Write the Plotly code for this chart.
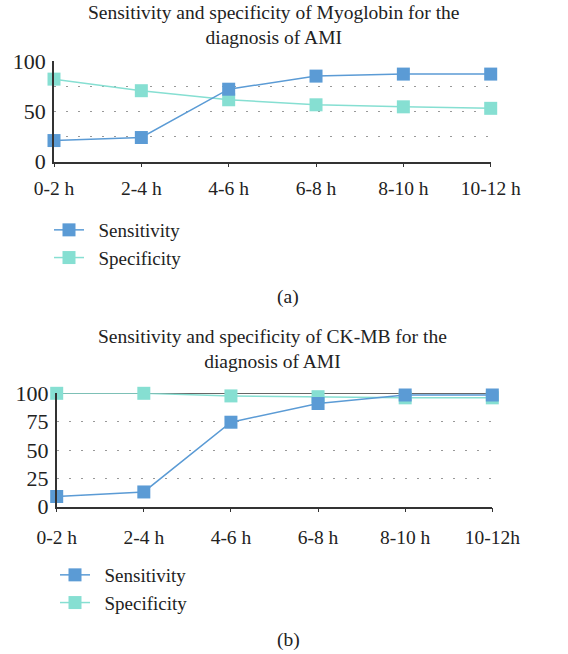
import plotly.graph_objects as go

categories_a = ["0-2 h", "2-4 h", "4-6 h", "6-8 h", "8-10 h", "10-12 h"]
categories_b = ["0-2 h", "2-4 h", "4-6 h", "6-8 h", "8-10 h", "10-12h"]

myo_sensitivity = [21, 24, 72, 85, 87, 87]
myo_specificity = [82, 70.5, 61.5, 56.5, 54.5, 53]

ckmb_sensitivity = [9, 13, 74.5, 91, 98.5, 98.5]
ckmb_specificity = [100, 100, 97.7, 97, 96, 96]

series_names = ["Sensitivity", "Specificity"]

title_a = "Sensitivity and specificity of Myoglobin for the<br>diagnosis of AMI"
title_b = "Sensitivity and specificity of CK-MB for the<br>diagnosis of AMI"

yticks_a = [0, 50, 100]
yticks_b = [0, 25, 50, 75, 100]
grid_vals = [25, 50, 75]

BLUE = "#5B9BD5"
TEAL = "#86DFD2"
FONT = "Liberation Serif"
TXT = "#222"
W, H = 568, 654
PAD = "\u00a0\u00a0"

fig = go.Figure()

def add_pair(xname, yname, cats, sens, spec, legend):
    fig.add_trace(go.Scatter(
        x=list(range(len(cats))), y=spec, name=PAD + series_names[1], mode="lines+markers",
        line=dict(color=TEAL, width=1.5), marker=dict(symbol="square", size=13, color=TEAL),
        xaxis=xname, yaxis=yname, legend=legend, legendrank=2, cliponaxis=False))
    fig.add_trace(go.Scatter(
        x=list(range(len(cats))), y=sens, name=PAD + series_names[0], mode="lines+markers",
        line=dict(color=BLUE, width=1.5), marker=dict(symbol="square", size=13, color=BLUE),
        xaxis=xname, yaxis=yname, legend=legend, legendrank=1, cliponaxis=False))

add_pair("x", "y", categories_a, myo_sensitivity, myo_specificity, "legend")
add_pair("x2", "y2", categories_b, ckmb_sensitivity, ckmb_specificity, "legend2")

def px_x(p):
    return p / W

def px_y(p):
    return 1 - p / H

def xaxis_cfg(cats, d0, d1, anchor, standoff):
    return dict(
        domain=[px_x(d0), px_x(d1)], anchor=anchor, range=[0, len(cats) - 1],
        tickmode="array", tickvals=list(range(len(cats))), ticktext=cats,
        showline=True, linecolor="#333", linewidth=1.5, ticks="outside", ticklen=4,
        tickcolor="#333", tickwidth=1, showgrid=False, zeroline=False,
        tickfont=dict(family=FONT, size=19.5, color=TXT), ticklabelstandoff=standoff,
        automargin=False, fixedrange=True)

def yaxis_cfg(ticks, t, b, anchor):
    return dict(
        domain=[px_y(b), px_y(t)], anchor=anchor, range=[0, 100],
        tickmode="array", tickvals=ticks, showline=True, linecolor="#333",
        linewidth=1.5, ticks="", showgrid=False, zeroline=False,
        tickfont=dict(family=FONT, size=22, color=TXT), ticklabelstandoff=2,
        minor=dict(tickmode="array", tickvals=grid_vals, showgrid=True,
                   gridcolor="#999999", griddash="2px,10px", gridwidth=1.2, ticks=""),
        automargin=False, fixedrange=True)

legend_font = dict(family=FONT, size=19, color=TXT)

fig.update_layout(
    width=W, height=H, margin=dict(l=0, r=0, t=0, b=0, autoexpand=False),
    paper_bgcolor="white", plot_bgcolor="white",
    font=dict(family=FONT, size=18, color=TXT),
    xaxis=xaxis_cfg(categories_a, 54, 490.7, "y", 4),
    yaxis=yaxis_cfg(yticks_a, 61, 161.7, "x"),
    xaxis2=xaxis_cfg(categories_b, 56.7, 492.3, "y2", 8),
    yaxis2=yaxis_cfg(yticks_b, 393.3, 506.7, "x2"),
    legend=dict(x=px_x(49), y=px_y(211), xanchor="left", yanchor="top",
                font=legend_font, bgcolor="rgba(0,0,0,0)"),
    legend2=dict(x=px_x(55), y=px_y(556), xanchor="left", yanchor="top",
                 font=legend_font, bgcolor="rgba(0,0,0,0)"),
    showlegend=True,
)

fig.add_shape(type="line", xref="x2 domain", yref="y2", x0=0, x1=1, y0=100, y1=100,
              line=dict(color="#333", width=1.5), layer="below")

title_font = dict(family=FONT, size=19.5, color=TXT)
fig.add_annotation(text=title_a, xref="paper", yref="paper", x=px_x(274), y=px_y(25),
                   showarrow=False, font=title_font, xanchor="center", yanchor="middle")
fig.add_annotation(text=title_b, xref="paper", yref="paper", x=px_x(272), y=px_y(349),
                   showarrow=False, font=title_font, xanchor="center", yanchor="middle")
fig.add_annotation(text="(a)", xref="paper", yref="paper", x=px_x(288), y=px_y(297),
                   showarrow=False, font=title_font, xanchor="center", yanchor="middle")
fig.add_annotation(text="(b)", xref="paper", yref="paper", x=px_x(288), y=px_y(640),
                   showarrow=False, font=title_font, xanchor="center", yanchor="middle")

fig.write_html("out.html", config={"displayModeBar": False},
               post_script="document.body.style.margin='0px';document.body.style.overflow='hidden';")
